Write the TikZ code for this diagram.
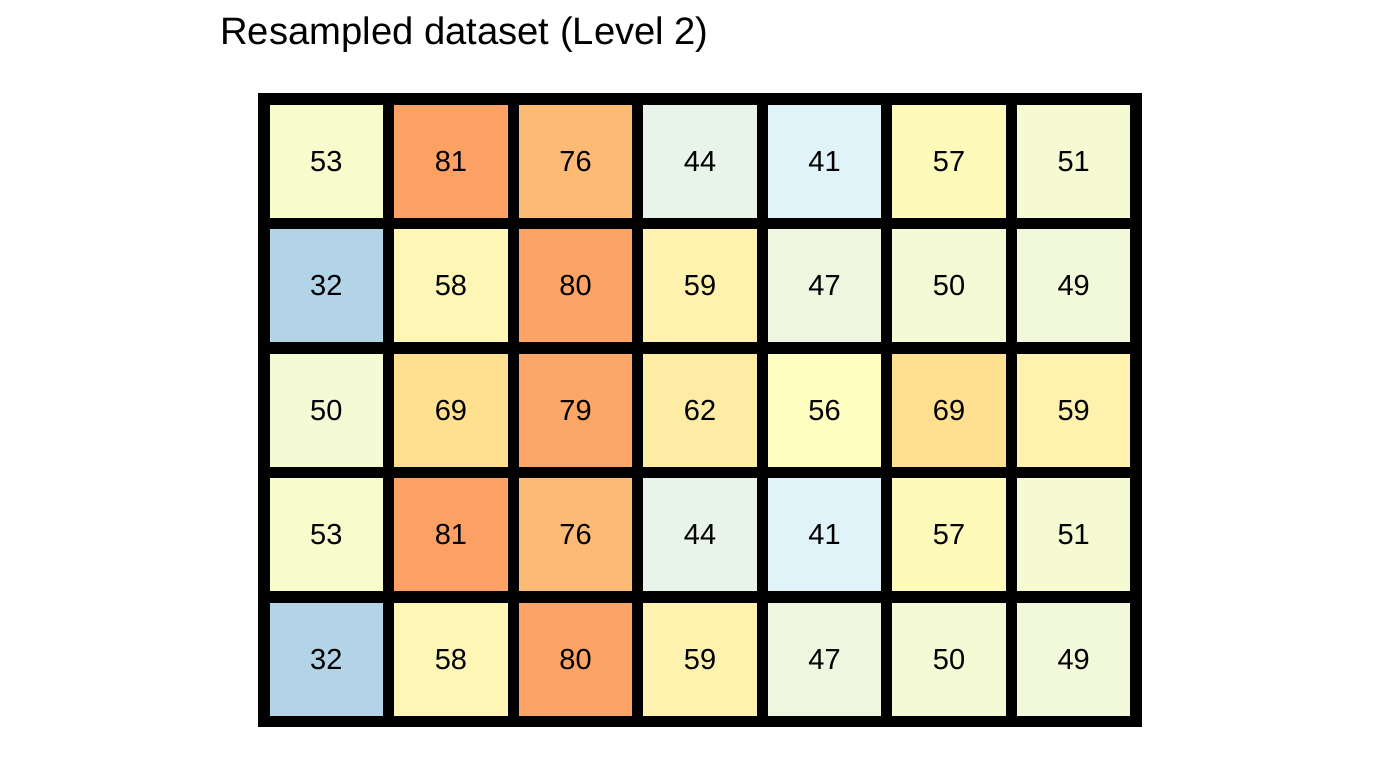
\documentclass[tikz,border=0pt]{standalone}
\usepackage{fontspec}
\setmainfont{Liberation Sans}
\usepackage{xcolor}
\definecolor{v32}{HTML}{B3D4E6}
\definecolor{v41}{HTML}{E0F3F8}
\definecolor{v44}{HTML}{E8F4EA}
\definecolor{v47}{HTML}{EFF6E0}
\definecolor{v49}{HTML}{F2F9DA}
\definecolor{v50}{HTML}{F4FAD4}
\definecolor{v51}{HTML}{F5FAD3}
\definecolor{v53}{HTML}{F8FBCB}
\definecolor{v56}{HTML}{FEFEC0}
\definecolor{v57}{HTML}{FEFBBA}
\definecolor{v58}{HTML}{FEF6B4}
\definecolor{v59}{HTML}{FEF2AE}
\definecolor{v62}{HTML}{FEECA4}
\definecolor{v69}{HTML}{FEE090}
\definecolor{v76}{HTML}{FDBA74}
\definecolor{v79}{HTML}{FCA667}
\definecolor{v80}{HTML}{FCA466}
\definecolor{v81}{HTML}{FDA063}
\tikzset{cell/.style = {draw=black, line width=5.6pt, minimum size=62.3pt,
  inner sep=0pt, font=\fontsize{14.5}{17}\selectfont}}

\begin{document}
\begin{tikzpicture}[x=0.5pt,y=-0.5pt]
  \useasboundingbox (0,0) rectangle (1400,768);

  \node[anchor=base west, inner sep=0pt, font=\fontsize{19.1}{23}\selectfont] (title) at (220,44) {Resampled dataset (Level 2)};

  \node[cell, fill=v53] (r1c1) at (326.3,161.3) {53};
  \node[cell, fill=v81] (r1c2) at (450.9,161.3) {81};
  \node[cell, fill=v76] (r1c3) at (575.5,161.3) {76};
  \node[cell, fill=v44] (r1c4) at (700.0,161.3) {44};
  \node[cell, fill=v41] (r1c5) at (824.6,161.3) {41};
  \node[cell, fill=v57] (r1c6) at (949.1,161.3) {57};
  \node[cell, fill=v51] (r1c7) at (1073.7,161.3) {51};

  \node[cell, fill=v32] (r2c1) at (326.3,285.8) {32};
  \node[cell, fill=v58] (r2c2) at (450.9,285.8) {58};
  \node[cell, fill=v80] (r2c3) at (575.5,285.8) {80};
  \node[cell, fill=v59] (r2c4) at (700.0,285.8) {59};
  \node[cell, fill=v47] (r2c5) at (824.6,285.8) {47};
  \node[cell, fill=v50] (r2c6) at (949.1,285.8) {50};
  \node[cell, fill=v49] (r2c7) at (1073.7,285.8) {49};

  \node[cell, fill=v50] (r3c1) at (326.3,410.3) {50};
  \node[cell, fill=v69] (r3c2) at (450.9,410.3) {69};
  \node[cell, fill=v79] (r3c3) at (575.5,410.3) {79};
  \node[cell, fill=v62] (r3c4) at (700.0,410.3) {62};
  \node[cell, fill=v56] (r3c5) at (824.6,410.3) {56};
  \node[cell, fill=v69] (r3c6) at (949.1,410.3) {69};
  \node[cell, fill=v59] (r3c7) at (1073.7,410.3) {59};

  \node[cell, fill=v53] (r4c1) at (326.3,534.8) {53};
  \node[cell, fill=v81] (r4c2) at (450.9,534.8) {81};
  \node[cell, fill=v76] (r4c3) at (575.5,534.8) {76};
  \node[cell, fill=v44] (r4c4) at (700.0,534.8) {44};
  \node[cell, fill=v41] (r4c5) at (824.6,534.8) {41};
  \node[cell, fill=v57] (r4c6) at (949.1,534.8) {57};
  \node[cell, fill=v51] (r4c7) at (1073.7,534.8) {51};

  \node[cell, fill=v32] (r5c1) at (326.3,659.3) {32};
  \node[cell, fill=v58] (r5c2) at (450.9,659.3) {58};
  \node[cell, fill=v80] (r5c3) at (575.5,659.3) {80};
  \node[cell, fill=v59] (r5c4) at (700.0,659.3) {59};
  \node[cell, fill=v47] (r5c5) at (824.6,659.3) {47};
  \node[cell, fill=v50] (r5c6) at (949.1,659.3) {50};
  \node[cell, fill=v49] (r5c7) at (1073.7,659.3) {49};

\end{tikzpicture}
\end{document}
